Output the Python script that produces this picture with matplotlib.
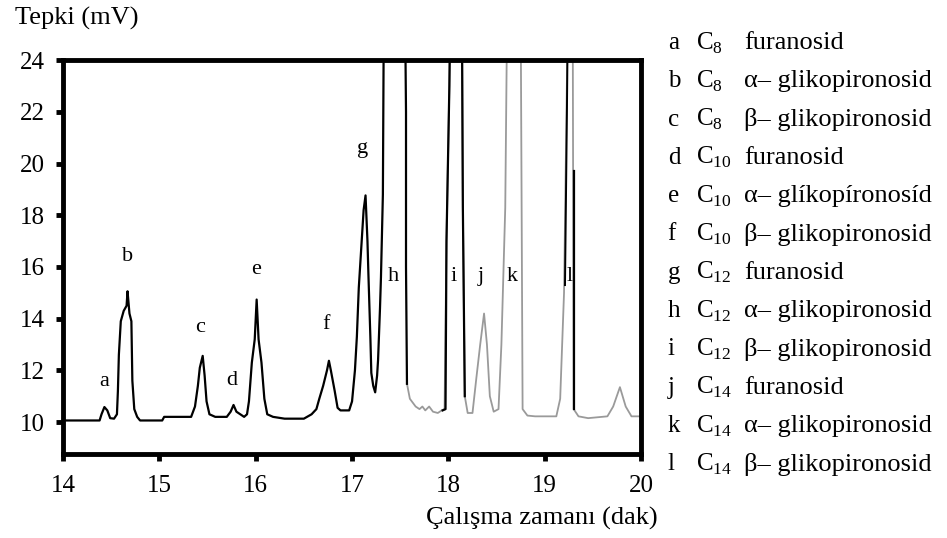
import numpy as np
import matplotlib.pyplot as plt

plt.rcParams['font.family'] = ['Liberation Serif', 'DejaVu Serif']
plt.rcParams['mathtext.fontset'] = 'custom'
plt.rcParams['mathtext.rm'] = 'Liberation Serif'

# main (black) trace: peaks a-h
t_black = [14.00, 14.38, 14.40, 14.43, 14.46, 14.49, 14.53, 14.56, 14.57, 14.58, 14.60, 14.63,
           14.66, 14.67, 14.69, 14.71, 14.72, 14.74, 14.77, 14.80, 15.03, 15.05, 15.33, 15.37,
           15.40, 15.42, 15.45, 15.47, 15.49, 15.52, 15.58, 15.70, 15.74, 15.77, 15.80, 15.84,
           15.88, 15.91, 15.93, 15.96, 15.99, 16.01, 16.03, 16.06, 16.09, 16.12, 16.18, 16.30,
           16.50, 16.58, 16.63, 16.66, 16.70, 16.74, 16.76, 16.78, 16.82, 16.85, 16.88, 16.97,
           17.00, 17.03, 17.05, 17.07, 17.09, 17.12, 17.14, 17.16, 17.17, 17.19, 17.20, 17.22,
           17.24, 17.26, 17.27, 17.29, 17.30, 17.32, 17.33, 17.55, 17.56, 17.56, 17.57]
r_black = [10.06, 10.06, 10.3, 10.58, 10.45, 10.15, 10.13, 10.3, 11.2, 12.6, 13.9, 14.3,
           14.5, 15.06, 14.2, 13.9, 11.6, 10.5, 10.2, 10.06, 10.06, 10.2, 10.2, 10.6,
           11.4, 12.1, 12.56, 11.8, 10.8, 10.3, 10.2, 10.2, 10.4, 10.66, 10.4, 10.3,
           10.2, 10.3, 10.8, 12.3, 13.2, 14.74, 13.2, 12.3, 10.9, 10.3, 10.2, 10.13,
           10.13, 10.3, 10.5, 10.9, 11.4, 12.0, 12.37, 12.0, 11.2, 10.55, 10.45, 10.45,
           10.8, 12.0, 13.3, 15.2, 16.4, 18.2, 18.77, 17.0, 15.7, 13.3, 11.9, 11.4,
           11.15, 11.8, 12.4, 14.4, 15.6, 18.8, 26.0, 26.0, 22.0, 16.0, 11.48]

# second (grey) trace: peaks i-l
t_grey = [17.57, 17.60, 17.66, 17.70, 17.73, 17.76, 17.80, 17.84, 17.89, 17.93, 17.96, 17.98,
          18.01, 18.02, 18.14, 18.15, 18.17, 18.20, 18.25, 18.29, 18.33, 18.37, 18.40, 18.43,
          18.47, 18.52, 18.55, 18.59, 18.61, 18.75, 18.77, 18.82, 18.90, 19.12, 19.16, 19.20,
          19.24, 19.29, 19.30, 19.35, 19.45, 19.65, 19.71, 19.78, 19.84, 19.90, 20.00]
r_grey = [11.48, 10.9, 10.6, 10.5, 10.6, 10.45, 10.6, 10.4, 10.35, 10.45, 10.5, 17.0,
          23.0, 26.0, 26.0, 18.3, 11.0, 10.35, 10.35, 11.7, 13.0, 14.2, 13.0, 11.0,
          10.4, 10.5, 13.0, 18.3, 26.0, 26.0, 10.5, 10.25, 10.22, 10.22, 10.9, 15.0,
          26.0, 26.0, 10.5, 10.22, 10.15, 10.22, 10.6, 11.35, 10.6, 10.22, 10.22]

# black overlays on peaks i and l
t_i = [17.94, 17.97, 17.98, 18.01, 18.02, 18.14, 18.15, 18.17]
r_i = [10.45, 10.5, 17.0, 23.0, 26.0, 26.0, 18.3, 11.0]
t_l = [19.21, 19.23, 19.24]
r_l = [15.3, 22.0, 26.0]
t_l2 = [19.30, 19.30]
r_l2 = [19.7, 10.5]

peak_letters = ['a', 'b', 'c', 'd', 'e', 'f', 'g', 'h', 'i', 'j', 'k', 'l']
label_x = [14.43, 14.67, 15.42, 15.75, 16.00, 16.73, 17.11, 17.43, 18.05, 18.34, 18.66, 19.26]
label_y = [11.55, 16.4, 13.65, 11.6, 15.9, 13.78, 20.6, 15.65, 15.65, 15.65, 15.65, 15.65]

carbons = ['8', '8', '8', '10', '10', '10', '12', '12', '12', '14', '14', '14']
names = ['furanosid', 'α– glikopironosid', 'β– glikopironosid',
         'furanosid', 'α– glíkopíronosíd', 'β– glikopironosid',
         'furanosid', 'α– glikopironosid', 'β– glikopironosid',
         'furanosid', 'α– glikopironosid', 'β– glikopironosid']

fig = plt.figure(figsize=(9.47, 5.38), dpi=100)
ax = fig.add_axes([0.0665, 0.156, 0.6105, 0.732])

ax.plot(t_grey, r_grey, color='#9a9a9a', lw=1.3)
ax.plot(t_black, r_black, color='black', lw=1.6)
ax.plot(t_i, r_i, color='black', lw=1.6)
ax.plot(t_l, r_l, color='black', lw=1.4)
ax.plot(t_l2, r_l2, color='black', lw=1.6)

for s, x, y in zip(peak_letters, label_x, label_y):
    ax.text(x, y, s, ha='center', va='center', fontsize=16)

ax.set_xlim(14, 20)
ax.set_ylim(8.76, 24)
ax.set_xticks([14, 15, 16, 17, 18, 19, 20])
ax.set_yticks([10, 12, 14, 16, 18, 20, 22, 24])
for sp in ax.spines.values():
    sp.set_linewidth(3.5)
ax.tick_params(direction='out', length=5, width=3.5, labelsize=18)
ax.tick_params(axis='x', pad=10)
ax.tick_params(axis='y', pad=8)

fig.text(0.016, 0.965, 'Tepki (mV)', fontsize=19, va='center', ha='left')
fig.text(0.694, 0.037, 'Çalışma zamanı (dak)', fontsize=19, va='center', ha='right')

for i in range(12):
    y = 1 - (43 + 38.3 * i) / 538
    fig.text(0.705, y, peak_letters[i], fontsize=18, va='center', ha='left')
    fig.text(0.735, y, 'C$_\\mathregular{' + carbons[i] + '}$', fontsize=18, va='center', ha='left')
    fig.text(0.786, y, names[i], fontsize=19, va='center', ha='left')

fig.savefig('out.png', dpi=100)
